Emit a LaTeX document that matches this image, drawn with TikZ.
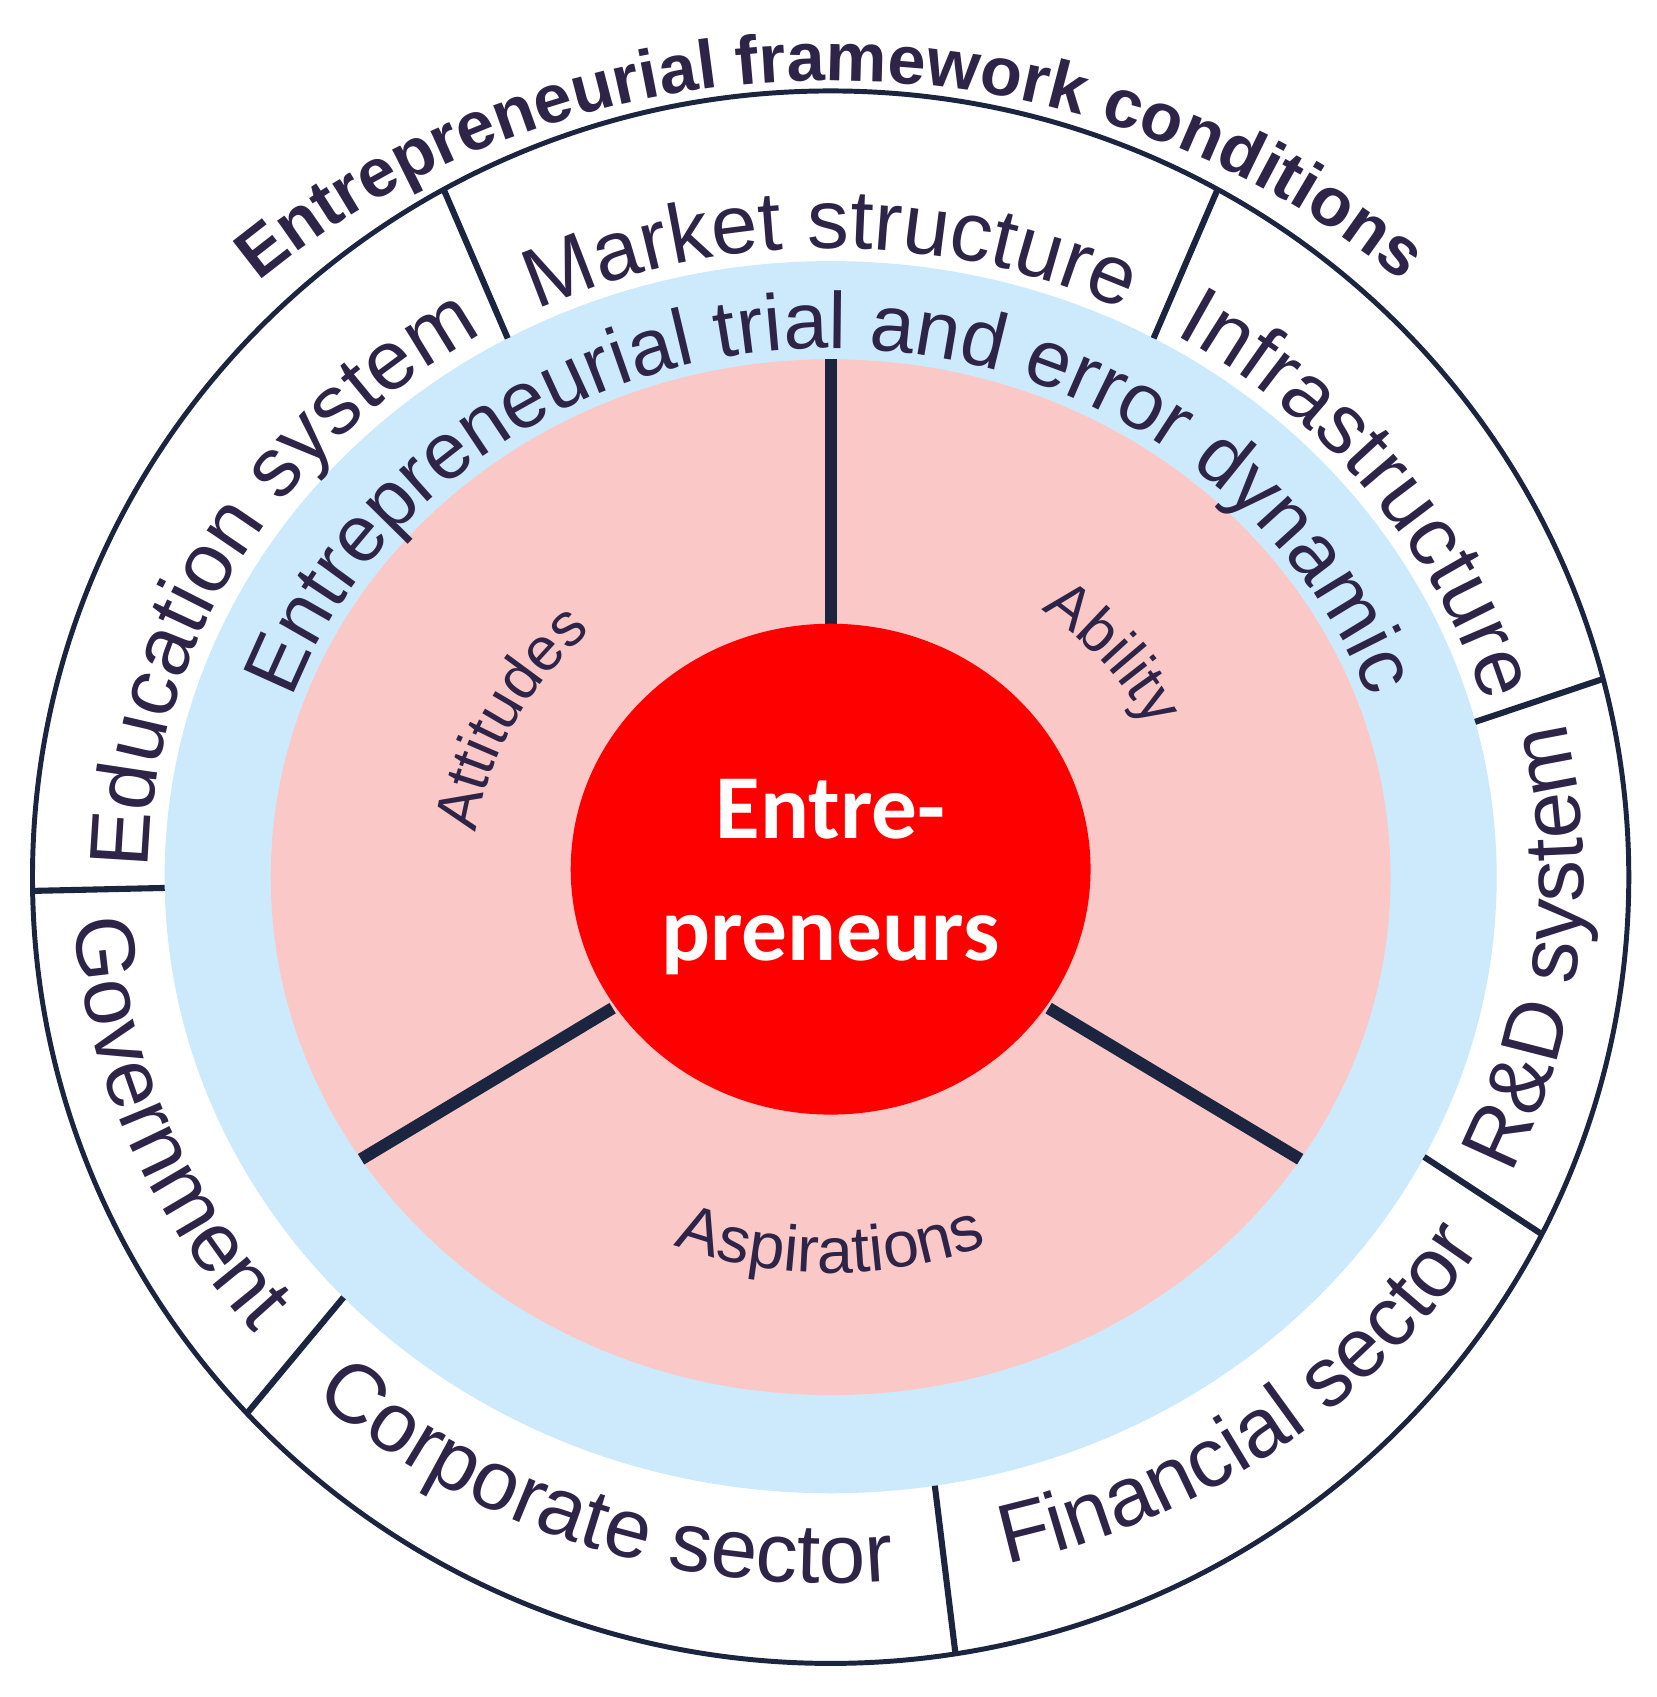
\documentclass[tikz,border=0pt]{standalone}
\usepackage{fontspec}
\setmainfont{Liberation Sans}
\newfontfamily\carl{Carlito}
\usetikzlibrary{decorations.text}
\definecolor{navy}{HTML}{1C2540}
\definecolor{txt}{HTML}{2E2448}
\definecolor{bluef}{HTML}{CCEAFB}
\definecolor{pinkf}{HTML}{FBC8C8}
\definecolor{redf}{HTML}{FF0000}
\tikzset{
  arctext/.style args={#1/#2}{postaction={decorate},decoration={text along path,text align=center,text color=txt,text={|#1|#2}}},
  divider/.style={navy,line width=3.2pt},
  odiv/.style={navy,line width=1.6pt}
}
\begin{document}
\begin{tikzpicture}[x=0.1mm,y=0.1mm]
\useasboundingbox (0,0) rectangle (1530,1567);
\coordinate (O) at (767,757);
% outer ellipse
\draw[navy,line width=1.3pt,fill=white] (O) ellipse[x radius=737,y radius=726];
\begin{scope}[shift={(O)},yscale=0.925]
  \fill[bluef] (0,0) circle[radius=615];
  \fill[pinkf] (0,0) circle[radius=517];
  % outer dividers
  \foreach \a in {61,119,181,223,279,333,14.6}
    \draw[odiv] (\a:615) -- (\a:737 and 785);
  % pink dividers
  \draw[divider] (90:240) -- (90:517);
  \draw[divider] (213:240) -- (213:517);
  \draw[divider] (327:240) -- (327:517);
  \fill[redf] (0,8) ellipse[x radius=240,y radius=245];
  % title
  \path[arctext={\fontsize{18}{18}\bfseries}/{Entrepreneurial framework conditions}] (150:795) arc[start angle=150,end angle=30,radius=795];
  % outer band, clockwise (top)
  \path[arctext={\fontsize{22}{22}\selectfont}/{Market structure}] (119:628) arc[start angle=119,end angle=61,radius=628];
  \path[arctext={\fontsize{22}{22}\selectfont}/{Education system}] (181:630) arc[start angle=181,end angle=119,radius=630];
  \path[arctext={\fontsize{22}{22}\selectfont}/{Infrastructure}] (61:628) arc[start angle=61,end angle=14.6,radius=628];
  % outer band, counterclockwise (bottom)
  \path[arctext={\fontsize{22}{22}\selectfont}/{Government}] (181:700) arc[start angle=181,end angle=223,radius=700];
  \path[arctext={\fontsize{22}{22}\selectfont}/{Corporate sector}] (223:705) arc[start angle=223,end angle=279,radius=705];
  \path[arctext={\fontsize{22}{22}\selectfont}/{Financial sector}] (279:705) arc[start angle=279,end angle=333,radius=705];
  \path[arctext={\fontsize{22}{22}\selectfont}/{R{\&}D system}] (333:695) arc[start angle=333,end angle=374.6,radius=695];
  % blue band
  \path[arctext={\fontsize{21}{21}\selectfont}/{Entrepreneurial trial and error dynamic}] (182:528) arc[start angle=182,end angle=-2,radius=528];
  % pink sectors
  \path[arctext={\fontsize{16}{16}\selectfont}/{Attitudes}] (185:330) arc[start angle=185,end angle=120,radius=330];
  \path[arctext={\fontsize{16}{16}\selectfont}/{Ability}] (65:330) arc[start angle=65,end angle=15,radius=330];
  \path[arctext={\fontsize{17}{17}\selectfont}/{Aspirations}] (240:395) arc[start angle=240,end angle=300,radius=395];
\end{scope}
\node[text=white,font=\carl\bfseries\fontsize{24}{32}\selectfont,align=center] (lbl) at (767,757) {Entre-\\preneurs};
\end{tikzpicture}
\end{document}
